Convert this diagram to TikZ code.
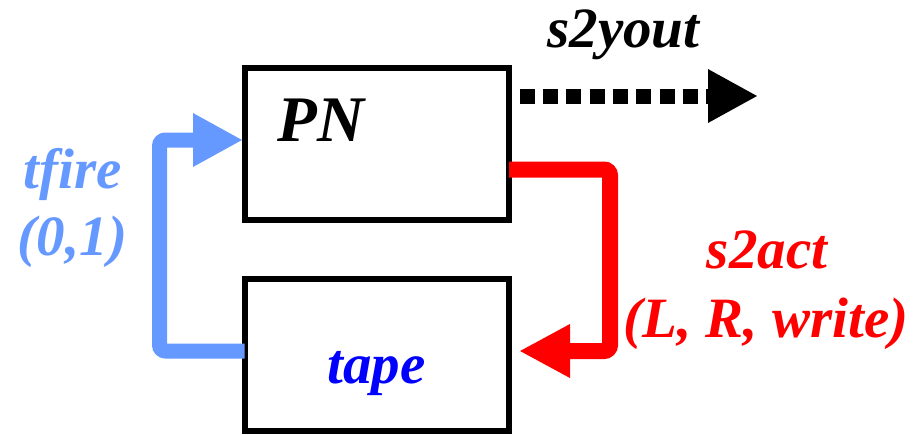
\documentclass[tikz,border=0pt]{standalone}
\usepackage{fontspec}
\setmainfont{Liberation Serif}[BoldFont={Liberation Serif Bold}, ItalicFont={Liberation Serif Italic}, BoldItalicFont={Liberation Serif Bold Italic}]
\usetikzlibrary{arrows.meta}
\definecolor{lblue}{RGB}{102,153,255}
\tikzset{
  blockbox/.style={draw=black, line width=6pt, fill=white, outer sep=0pt, inner sep=0pt, minimum width=264.5pt, minimum height=152pt},
  lbl/.style={font=\rmfamily\bfseries\itshape\fontsize{57}{68}\selectfont, anchor=base, inner sep=0pt},
  bigarrow/.style={line width=#1, rounded corners=6pt},
}
\begin{document}
\begin{tikzpicture}[x=1pt,y=-1pt]
\useasboundingbox (0,0) rectangle (918,434);
\node[blockbox] (PN) at (376.75,144) {};
\node[blockbox] (tape) at (376.75,355) {};
\node[lbl, font=\rmfamily\bfseries\itshape\fontsize{65}{78}\selectfont] (pnl) at (321,141) {PN};
\node[lbl, text={rgb,255:red,0;green,0;blue,255}] (tapel) at (376.5,383) {tape};
\coordinate (yout) at (758,96);
\coordinate (actIn) at (519,351);
\coordinate (fireIn) at (243,140);
% dotted output
\draw[line width=15pt, dash pattern=on 15pt off 8.33pt, dash phase=12.67pt, -{Triangle[length=50pt,width=50pt]}] (PN.east |- yout) -- (yout);
\node[lbl] (yl) at (623.5,47) {s2yout};
% red action
\draw[red, bigarrow=16pt, -{Triangle[length=51pt,width=50pt]}] (PN.east |- 0,169.5) -- (610,169.5) -- (610,351) -- (actIn);
\node[lbl, text=red] (al1) at (767,268) {s2act};
\node[lbl, text=red] (al2) at (766,337) {(L, R, write)};
% blue fire
\draw[lblue, bigarrow=15pt, -{Triangle[length=50pt,width=50pt]}] (tape.west |- 0,351) -- (159.5,351) -- (159.5,140) -- (fireIn);
\node[lbl, text=lblue] (fl1) at (72.5,188) {tfire};
\node[lbl, text=lblue] (fl2) at (72.5,255) {(0,1)};
\end{tikzpicture}
\end{document}
